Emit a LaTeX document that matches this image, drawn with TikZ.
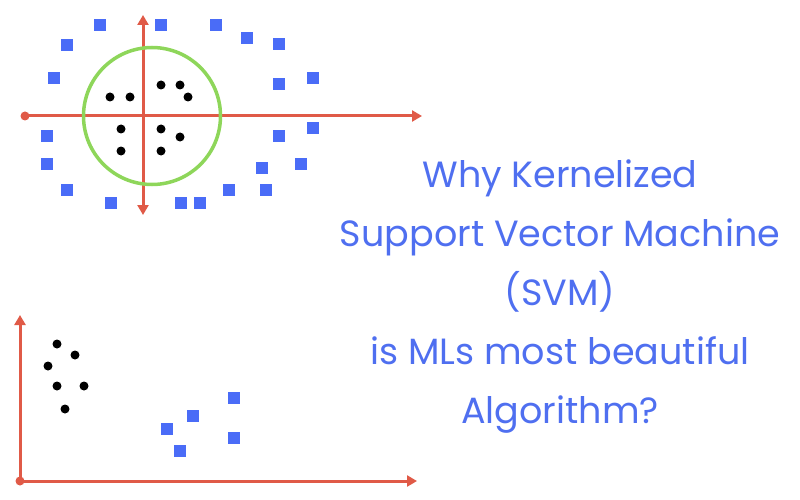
\documentclass[tikz,border=0pt]{standalone}
\usepackage{fontspec}
\setmainfont{Poppins}
\usetikzlibrary{arrows.meta}
\definecolor{axr}{HTML}{E05A47}
\definecolor{sq}{HTML}{4A6CF7}
\definecolor{cg}{HTML}{8ED65A}
\definecolor{tb}{HTML}{4F6FF0}
\begin{document}
\begin{tikzpicture}[x=1pt,y=-1pt,
  ax/.style={draw=axr,line width=3pt,-{Triangle[length=10pt,width=11pt]}},
  sqr/.style={fill=sq,minimum size=12pt,inner sep=0pt,draw=none,rectangle},
  dotn/.style={fill=black,circle,minimum size=9pt,inner sep=0pt},
  org/.style={fill=axr,circle,minimum size=9pt,inner sep=0pt}]
\useasboundingbox (0,0) rectangle (800,500);
% top plot
\node[org] (o1) at (25,116) {};
\coordinate (xe) at (422,116);
\coordinate (yt) at (143,15);
\coordinate (yb) at (143,215);
\coordinate (c) at (143,116);
\draw[ax] (o1.center) -- (xe);
\draw[ax] (c) -- (yt);
\draw[ax] (c) -- (yb);
\node[draw=cg,line width=3.5pt,circle,minimum size=137pt,inner sep=0pt] (circ) at (152,116) {};
\foreach \x/\y [count=\i] in {100/25,67/45,54/78,47/136,47/164,67/190,111/203,161/25,216/25,247/38,279/44,279/84,313/78,279/136,313/128,262/168,301/164,229/190,266/190,181/203,200/203}
  \node[sqr] (s\i) at (\x,\y) {};
\foreach \x/\y [count=\i] in {110/97,130/97,161/85,180/85,188/97,121/129,161/129,180/137,121/151,161/151}
  \node[dotn] (d\i) at (\x,\y) {};
% bottom plot
\node[org] (o2) at (20,481) {};
\coordinate (bx) at (417,481);
\coordinate (by) at (20,315);
\draw[ax] (o2.center) -- (bx);
\draw[ax] (o2.center) -- (by);
\foreach \x/\y [count=\i] in {57/344,75/355,48/366,57/386,84/386,65/409}
  \node[dotn] (e\i) at (\x,\y) {};
\foreach \x/\y [count=\i] in {234/398,193/416,167/429,180/451,234/438}
  \node[sqr] (t\i) at (\x,\y) {};
% title
\node[text=tb,font=\fontsize{36.5}{59}\selectfont,align=center] (title) at (560,297)
 {Why Kernelized\\Support Vector Machine\\(SVM)\\is MLs most beautiful\\Algorithm?};
\end{tikzpicture}
\end{document}
